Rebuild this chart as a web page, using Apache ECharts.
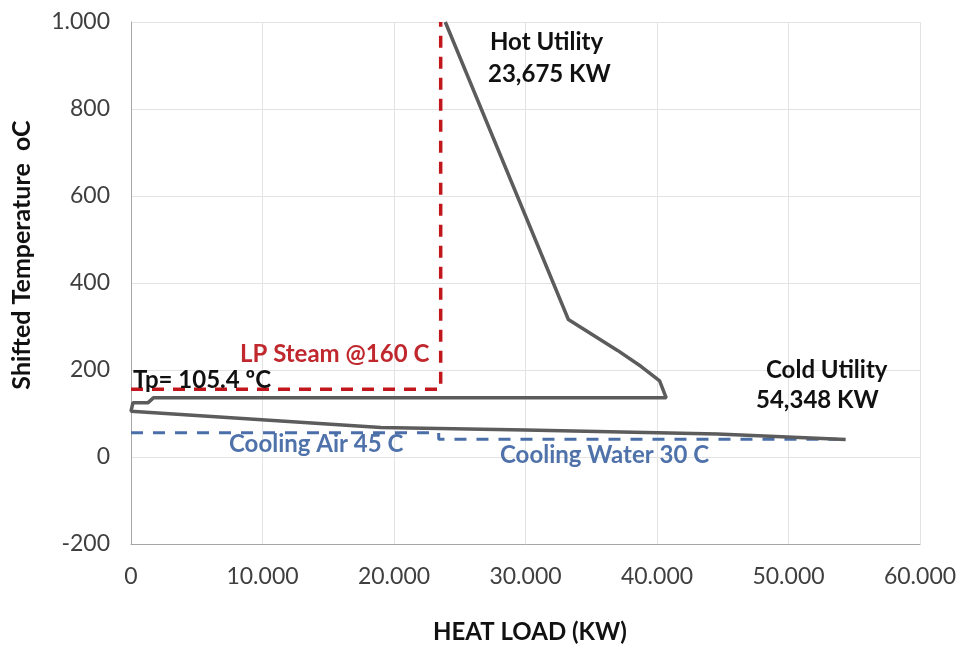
<!DOCTYPE html>
<html>
<head>
<meta charset="utf-8">
<script src="https://cdn.jsdelivr.net/npm/echarts@6/dist/echarts.min.js"></script>
<style>html,body{margin:0;padding:0;background:#fff;}#c{width:963px;height:645px;}</style>
</head>
<body>
<div id="c"></div>
<script>
// Grand composite curve points [heat load kW, shifted temperature °C]
const gccLoad = [23900, 33260, 37000, 38800, 40200, 40700, 1700, 1300, 150, 0, 19000, 30000, 44600, 54348];
const gccTemp = [1000, 316, 245, 208, 175, 136, 136, 125, 125, 105.4, 68, 62, 53, 40];
// LP steam utility line
const steamLoad = [0, 23550, 23550];
const steamTemp = [156, 156, 1000];
// Cooling air then cooling water
const coolLoad = [0, 23400, 23400, 53700];
const coolTemp = [56, 56, 41, 41];
// Axis ticks
const xTicks = [0, 10000, 20000, 30000, 40000, 50000, 60000];
const yTicks = [-200, 0, 200, 400, 600, 800, 1000];

const zip = (a, b) => a.map((v, i) => [v, b[i]]);
const fmt = v => {
  const s = Math.abs(v).toString().replace(/\B(?=(\d{3})+(?!\d))/g, '.');
  return (v < 0 ? '-' : '') + s;
};
const FONT = 'Lato, "Open Sans", sans-serif';
const txt = (x, y, text, color) => ({
  type: 'text', x: x, y: y, z: 100,
  style: { text: text, font: 'bold 24px ' + FONT, fill: color, verticalAlign: 'middle' }
});

const chart = echarts.init(document.getElementById('c'));
chart.setOption({
  animation: false,
  grid: { left: 131, right: 43, top: 22, bottom: 101 },
  xAxis: {
    type: 'value', min: xTicks[0], max: xTicks[xTicks.length - 1], interval: 10000,
    axisLine: { show: true, onZero: false, lineStyle: { color: '#a6a6a6', width: 1 } },
    axisTick: { show: false },
    splitLine: { show: true, lineStyle: { color: '#e3e3e3', width: 1 } },
    axisLabel: { margin: 21, fontSize: 23, color: '#3f3f3f', fontFamily: FONT, formatter: fmt }
  },
  yAxis: {
    type: 'value', min: yTicks[0], max: yTicks[yTicks.length - 1], interval: 200,
    axisLine: { show: true, onZero: false, lineStyle: { color: '#a6a6a6', width: 1 } },
    axisTick: { show: false },
    splitLine: { show: true, lineStyle: { color: '#e3e3e3', width: 1 } },
    axisLabel: { margin: 21, fontSize: 23, color: '#3f3f3f', fontFamily: FONT, formatter: fmt }
  },
  series: [
    { type: 'line', data: zip(steamLoad, steamTemp), symbol: 'none', z: 2,
      lineStyle: { color: '#c0161c', width: 3.5, type: [12, 9] } },
    { type: 'line', data: zip(coolLoad, coolTemp), symbol: 'none', z: 2,
      lineStyle: { color: '#4a6fa8', width: 3, type: [12, 10] } },
    { type: 'line', data: zip(gccLoad, gccTemp), symbol: 'none', z: 3,
      lineStyle: { color: '#5c5c5c', width: 3.5 } }
  ],
  graphic: [
    txt(490, 42, 'Hot Utility', '#111'),
    txt(488, 74, '23,675 KW', '#111'),
    txt(240, 354, 'LP Steam @160 C', '#c0282e'),
    txt(133, 380, 'Tp= 105.4 ºC', '#111'),
    txt(766, 370, 'Cold Utility', '#111'),
    txt(756, 400, '54,348 KW', '#111'),
    txt(229, 444, 'Cooling Air 45 C', '#4f72aa'),
    txt(500, 455, 'Cooling Water 30 C', '#4f72aa'),
    txt(433, 632, 'HEAT LOAD (KW)', '#111'),
    { type: 'text', x: 22, y: 255, rotation: Math.PI / 2, z: 100,
      style: { text: 'Shifted Temperature  oC', font: 'bold 25px ' + FONT, fill: '#111', align: 'center', verticalAlign: 'middle' } }
  ]
});
</script>
</body>
</html>
